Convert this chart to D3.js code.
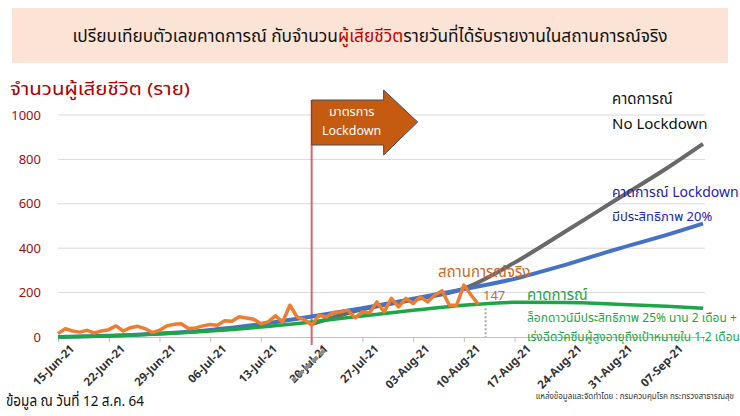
<!DOCTYPE html>
<html>
<head>
<meta charset="utf-8">
<script src="https://cdn.jsdelivr.net/npm/d3@7"></script>
<style>
  body { margin: 0; background: #fff; }
  svg text { font-family: 'Noto Sans Thai', Tahoma, 'Noto Sans', 'DejaVu Sans', sans-serif; }
</style>
</head>
<body>
<div id="chart"></div>
<script>
// actual daily deaths, 15 Jun 2021 .. 12 Aug 2021
const actualStart = '2021-06-15'
const actualDeaths = [
  15, 38, 27, 22, 30, 18, 27, 33, 50, 27,
  42, 48, 38, 20, 30, 50, 57, 60, 38, 41,
  50, 56, 53, 73, 71, 91, 86, 80, 60, 68,
  95, 68, 143, 90, 78, 53, 98, 90, 110, 113,
  121, 86, 113, 109, 158, 113, 174, 136, 174, 151,
  181, 158, 189, 208, 143, 143, 234, 189, 147
]

// forecast scenarios
const modelDates = [
  '2021-06-15', '2021-06-22', '2021-06-29', '2021-07-06', '2021-07-13', '2021-07-20', '2021-07-27',
  '2021-08-03', '2021-08-10', '2021-08-17', '2021-08-24', '2021-08-31', '2021-09-07', '2021-09-12'
]
const lockdown20 = [0, 6, 16, 32, 58, 92, 130, 172, 215, 262, 325, 395, 460, 511]
const lockdown25Vaccine = [0, 5, 14, 27, 45, 68, 95, 120, 143, 156, 155, 148, 138, 129]

const noLockdownDates = ['2021-07-20', '2021-07-27', '2021-08-03', '2021-08-10', '2021-08-17', '2021-08-24', '2021-08-31', '2021-09-07', '2021-09-12']
const noLockdown = [58, 125, 168, 218, 335, 475, 618, 760, 870]

const tickDates = [
  '2021-06-15', '2021-06-22', '2021-06-29', '2021-07-06', '2021-07-13', '2021-07-20', '2021-07-27',
  '2021-08-03', '2021-08-10', '2021-08-17', '2021-08-24', '2021-08-31', '2021-09-07'
]
const yTicks = [0, 200, 400, 600, 800, 1000]
const lockdownDate = '2021-07-20'
const lastReportDate = '2021-08-13'

const width = 740
const height = 416
const margin = { top: 115, right: 35, bottom: 79, left: 58 }

const parse = d3.timeParse('%Y-%m-%d')
const fmt = d3.timeFormat('%d-%b-%y')

const svg = d3.select('#chart')
  .append('svg')
    .attr('width', width)
    .attr('height', height)

// title box
svg.append('rect')
  .attr('x', 12).attr('y', 8)
  .attr('width', 716).attr('height', 55)
  .attr('fill', '#FBE4D5')

const title = svg.append('text')
  .attr('x', 370).attr('y', 42)
  .attr('text-anchor', 'middle')
  .attr('font-size', 17.3)
  .attr('fill', '#111')
title.append('tspan').text('เปรียบเทียบตัวเลขคาดการณ์ กับจำนวน')
title.append('tspan').attr('fill', '#C00000').text('ผู้เสียชีวิต')
title.append('tspan').text('รายวันที่ได้รับรายงานในสถานการณ์จริง')

const x = d3.scaleTime()
  .domain([parse('2021-06-15'), parse('2021-09-12')])
  .range([margin.left, 703])

const y = d3.scaleLinear()
  .domain([0, 1000])
  .range([height - margin.bottom, margin.top])

// grid
svg.append('g')
  .selectAll('line')
  .data(yTicks.slice(1))
  .enter()
  .append('line')
    .attr('x1', margin.left)
    .attr('x2', 705)
    .attr('y1', d => y(d))
    .attr('y2', d => y(d))
    .attr('stroke', '#D9D9D9')
    .attr('stroke-width', 1)

// y axis labels
const yAxis = svg.append('g')
  .attr('transform', `translate(${margin.left}, 0)`)
  .call(d3.axisLeft(y).tickValues(yTicks).tickFormat(d3.format('d')).tickSize(0).tickPadding(17))
yAxis.select('.domain').remove()
yAxis.selectAll('text')
  .attr('font-size', 13)
  .attr('fill', '#9B1111')

svg.append('text')
  .attr('x', 10).attr('y', 95)
  .attr('font-size', 17)
  .attr('fill', '#B00000')
  .attr('textLength', 180)
  .attr('lengthAdjust', 'spacingAndGlyphs')
  .text('จำนวนผู้เสียชีวิต (ราย)')

// x axis
const xAxis = svg.append('g')
  .attr('transform', `translate(0, ${y(0)})`)
  .call(d3.axisBottom(x).tickValues(tickDates.map(parse)).tickFormat(fmt).tickSize(5))
xAxis.select('.domain').attr('stroke', '#BFBFBF')
xAxis.selectAll('.tick line').attr('stroke', '#BFBFBF')
xAxis.selectAll('text')
  .attr('font-size', 11.5)
  .attr('font-weight', 'bold')
  .attr('fill', '#333')
  .attr('text-anchor', 'end')
  .attr('transform', 'translate(8, 4) rotate(-45)')
  .attr('dy', '0.35em')

// decoration over 20-Jul label
svg.append('line')
  .attr('x1', x(parse(lockdownDate)) + 13).attr('y1', 350)
  .attr('x2', x(parse(lockdownDate)) - 19).attr('y2', 381)
  .attr('stroke', '#8C8C8C')
  .attr('stroke-width', 4)
  .attr('stroke-dasharray', '7 3')

// lockdown line
svg.append('line')
  .attr('x1', x(parse(lockdownDate))).attr('x2', x(parse(lockdownDate)))
  .attr('y1', 100).attr('y2', y(0) + 8)
  .attr('stroke', '#D9666B')
  .attr('stroke-width', 2)

// lines
const line = d3.line()
  .x(d => x(d.date))
  .y(d => y(d.value))
  .curve(d3.curveMonotoneX)

const zip = (dates, values) => dates.map((d, i) => ({ date: parse(d), value: values[i] }))

svg.append('path')
  .datum(zip(noLockdownDates, noLockdown))
  .attr('d', line)
  .attr('fill', 'none')
  .attr('stroke', '#696969')
  .attr('stroke-width', 4)

svg.append('path')
  .datum(zip(modelDates, lockdown20))
  .attr('d', line)
  .attr('fill', 'none')
  .attr('stroke', '#4472C4')
  .attr('stroke-width', 4)

svg.append('path')
  .datum(zip(modelDates, lockdown25Vaccine))
  .attr('d', line)
  .attr('fill', 'none')
  .attr('stroke', '#1DA648')
  .attr('stroke-width', 3.5)

const startDate = parse(actualStart)
const actual = actualDeaths.map((v, i) => ({ date: d3.timeDay.offset(startDate, i), value: v }))

svg.append('path')
  .datum(actual)
  .attr('d', d3.line().x(d => x(d.date)).y(d => y(d.value)))
  .attr('fill', 'none')
  .attr('stroke', '#ED7D31')
  .attr('stroke-width', 3.5)
  .attr('stroke-linejoin', 'round')

// last report marker
const lastX = x(parse(lastReportDate))
svg.append('line')
  .attr('x1', lastX).attr('x2', lastX)
  .attr('y1', y(147) + 4).attr('y2', y(0))
  .attr('stroke', '#A6A6A6')
  .attr('stroke-width', 2)
  .attr('stroke-dasharray', '2 2')

// arrow
const ax = x(parse(lockdownDate))
svg.append('path')
  .attr('d', `M${ax},100 L${ax + 72},100 L${ax + 72},90 L${ax + 106},122 L${ax + 72},155 L${ax + 72},145 L${ax},145 Z`)
  .attr('fill', '#C55A11')
  .attr('stroke', '#3F4F66')
  .attr('stroke-width', 1)
svg.append('text')
  .attr('x', ax + 40).attr('y', 116)
  .attr('text-anchor', 'middle')
  .attr('font-size', 12.5)
  .attr('fill', '#fff')
  .text('มาตรการ')
svg.append('text')
  .attr('x', ax + 40).attr('y', 135)
  .attr('text-anchor', 'middle')
  .attr('font-size', 12.5)
  .attr('fill', '#fff')
  .text('Lockdown')

// annotations
const note = (tx, ty, size, color, str) => svg.append('text')
  .attr('x', tx).attr('y', ty)
  .attr('font-size', size)
  .attr('fill', color)
  .text(str)

note(612, 104, 15, '#111', 'คาดการณ์')
note(612, 129, 15, '#111', 'No Lockdown')
note(612, 197, 14, '#2424A8', 'คาดการณ์ Lockdown')
note(612, 221, 13, '#2424A8', 'มีประสิทธิภาพ 20%')
note(438, 277, 15, '#C8692A', 'สถานการณ์จริง')
note(483, 300, 13, '#C8692A', '147')
note(527, 300, 15, '#1DA648', 'คาดการณ์')
note(527, 322, 12, '#1DA648', 'ล็อกดาวน์มีประสิทธิภาพ 25% นาน 2 เดือน +')
note(527, 341, 12, '#1DA648', 'เร่งฉีดวัคซีนผู้สูงอายุถึงเป้าหมายใน 1-2 เดือน')

note(6, 406, 15, '#111', 'ข้อมูล ณ วันที่ 12 ส.ค. 64')
  .attr('textLength', 138)
  .attr('lengthAdjust', 'spacingAndGlyphs')
svg.append('text')
  .attr('x', 734).attr('y', 399)
  .attr('text-anchor', 'end')
  .attr('font-size', 8)
  .attr('fill', '#333')
  .text('แหล่งข้อมูลและจัดทำโดย : กรมควบคุมโรค กระทรวงสาธารณสุข')
</script>
</body>
</html>
